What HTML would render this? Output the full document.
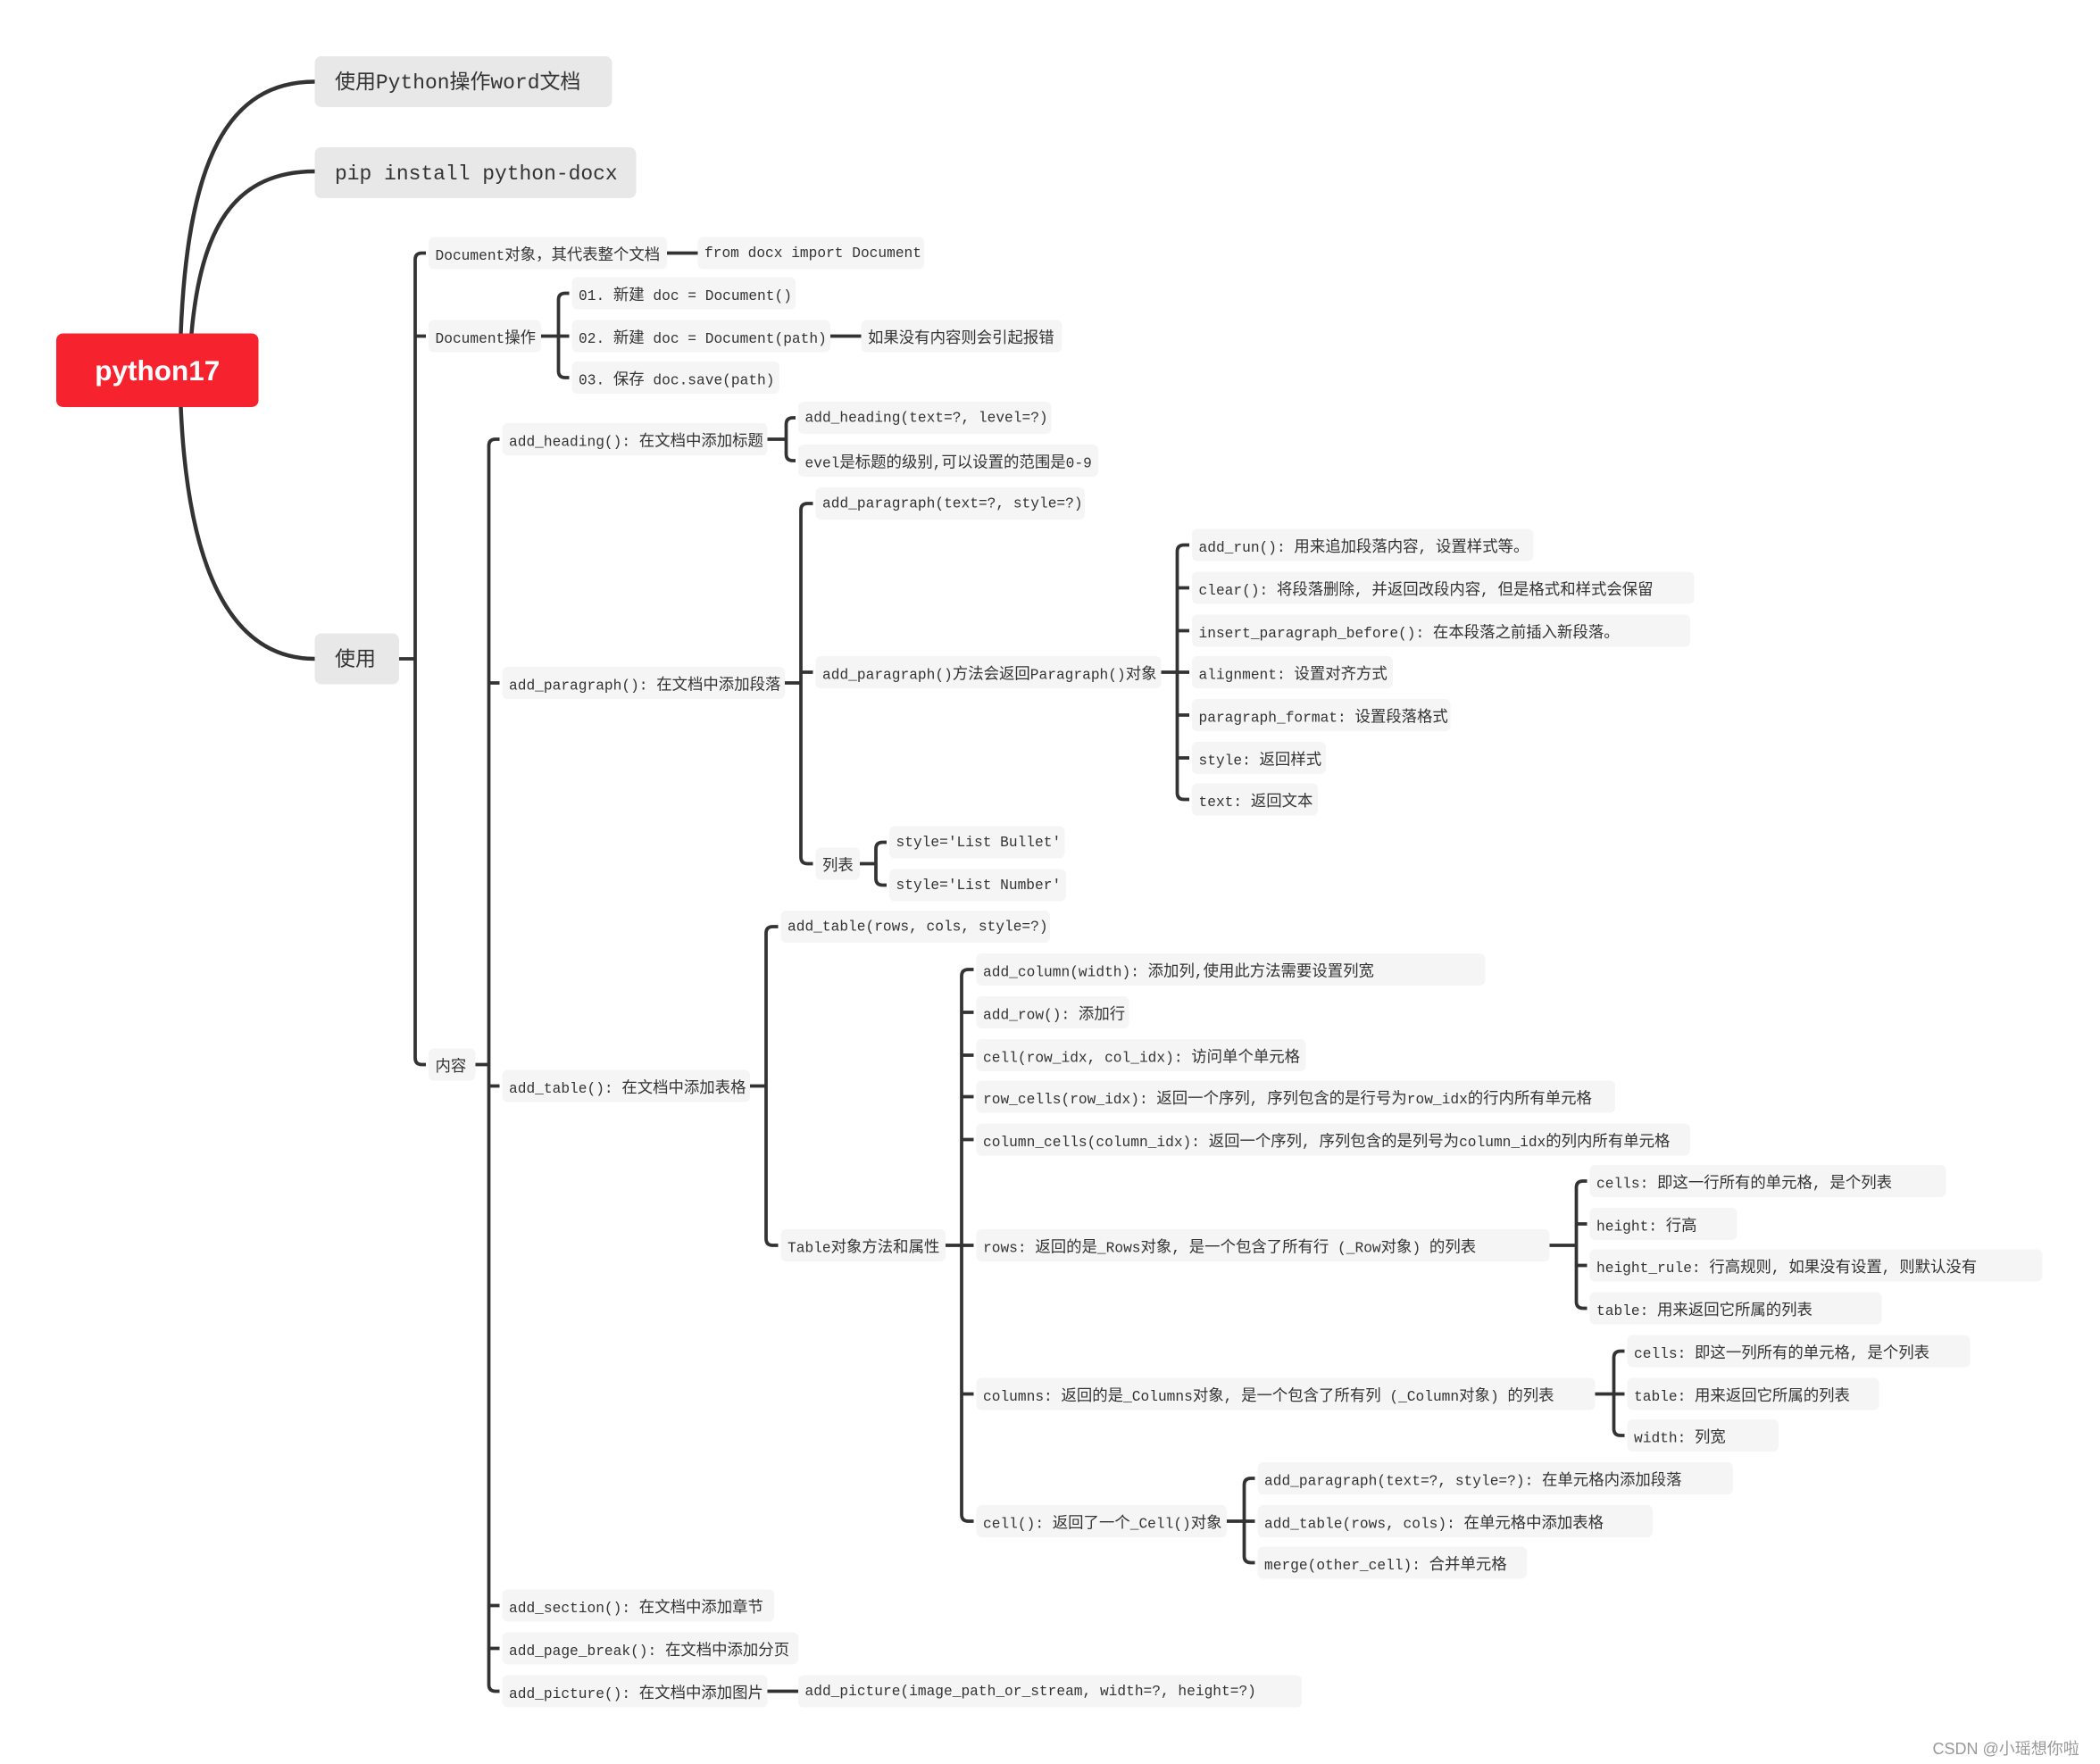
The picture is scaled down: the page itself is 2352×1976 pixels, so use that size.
<!DOCTYPE html>
<html><head><meta charset="utf-8"><style>
html,body{margin:0;padding:0;background:#fff;}
body{width:2352px;height:1975px;overflow:hidden;position:relative;}
#c{position:absolute;left:0;top:0;width:1568px;height:1317px;transform:scale(1.5);transform-origin:0 0;}
.n{position:absolute;height:24px;line-height:27px;padding-left:5px;box-sizing:border-box;background:#f5f5f5;border-radius:4px;white-space:nowrap;font-family:"Liberation Mono","Noto Sans CJK SC",monospace;font-size:10.8px;color:#333;overflow:visible;}
.n i{font-style:normal;font-family:"Noto Sans CJK SC",sans-serif;}
.b{position:absolute;height:38px;line-height:41px;padding-left:15px;box-sizing:border-box;background:#e8e8e8;border-radius:5px;white-space:nowrap;font-family:"Liberation Mono","Noto Sans CJK SC",monospace;font-size:15.3px;color:#333;}
#root{position:absolute;left:42px;top:249px;width:151px;height:55px;background:#f6232f;border-radius:5px;color:#fff;font-family:"Liberation Sans",sans-serif;font-weight:bold;font-size:21px;line-height:57px;text-align:center;}
svg{position:absolute;left:0;top:0;}
#wm{position:absolute;left:1443px;top:1297px;font-family:"Liberation Sans","Noto Sans CJK SC",sans-serif;font-size:12px;color:#999;white-space:nowrap;}
</style></head><body><div id="c">
<svg id="s" width="1568" height="1317" viewBox="0 0 1568 1317">
<g fill="none" stroke="#333" stroke-width="3" stroke-linecap="round">
<path d="M135,249 C140,120 170,61 235,61"/>
<path d="M143,249 C150,170 175,128 235,128"/>
<path d="M135,304 C140,420 170,492 235,492"/>
</g>
<g id="g" fill="none" stroke="#333" stroke-width="2.5"></g>
</svg>
<div id="root">python17</div>
<div class="b" style="left:235px;top:42px;width:222px;">使用Python操作word文档</div>
<div class="b" style="left:235px;top:110px;width:240px;">pip install python-docx</div>
<div class="b" style="left:235px;top:473px;width:63px;">使用</div>

<div class="n" style="left:320px;top:177px;width:178px;">Document对象，其代表整个文档</div>
<div class="n" style="left:521px;top:177px;width:169px;">from docx import Document</div>
<div class="n" style="left:320px;top:239px;width:84px;">Document操作</div>
<div class="n" style="left:427px;top:207px;width:167px;">01. 新建 doc = Document()</div>
<div class="n" style="left:427px;top:239px;width:193px;">02. 新建 doc = Document(path)</div>
<div class="n" style="left:643px;top:239px;width:150px;">如果没有内容则会引起报错</div>
<div class="n" style="left:427px;top:270px;width:155px;">03. 保存 doc.save(path)</div>
<div class="n" style="left:320px;top:783px;width:35px;">内容</div>

<div class="n" style="left:375px;top:316px;width:198px;">add_heading(): 在文档中添加标题</div>
<div class="n" style="left:596px;top:300px;width:189px;">add_heading(text=?, level=?)</div>
<div class="n" style="left:596px;top:332px;width:224px;">evel是标题的级别,可以设置的范围是0-9</div>

<div class="n" style="left:375px;top:498px;width:211px;">add_paragraph(): 在文档中添加段落</div>
<div class="n" style="left:609px;top:364px;width:201px;">add_paragraph(text=?, style=?)</div>
<div class="n" style="left:609px;top:490px;width:258px;">add_paragraph()方法会返回Paragraph()对象</div>
<div class="n" style="left:609px;top:633px;width:33px;">列表</div>
<div class="n" style="left:890px;top:395px;width:255px;">add_run(): 用来追加段落内容, 设置样式等。</div>
<div class="n" style="left:890px;top:427px;width:375px;">clear(): 将段落删除, 并返回改段内容, 但是格式和样式会保留</div>
<div class="n" style="left:890px;top:459px;width:372px;">insert_paragraph_before(): 在本段落之前插入新段落。</div>
<div class="n" style="left:890px;top:490px;width:150px;">alignment: 设置对齐方式</div>
<div class="n" style="left:890px;top:522px;width:193px;">paragraph_format: 设置段落格式</div>
<div class="n" style="left:890px;top:554px;width:100px;">style: 返回样式</div>
<div class="n" style="left:890px;top:585px;width:94px;">text: 返回文本</div>
<div class="n" style="left:664px;top:617px;width:131px;">style='List Bullet'</div>
<div class="n" style="left:664px;top:649px;width:132px;">style='List Number'</div>

<div class="n" style="left:375px;top:799px;width:185px;">add_table(): 在文档中添加表格</div>
<div class="n" style="left:583px;top:680px;width:201px;">add_table(rows, cols, style=?)</div>
<div class="n" style="left:583px;top:918px;width:123px;">Table对象方法和属性</div>
<div class="n" style="left:729px;top:712px;width:380px;">add_column(width): 添加列,使用此方法需要设置列宽</div>
<div class="n" style="left:729px;top:744px;width:114px;">add_row(): 添加行</div>
<div class="n" style="left:729px;top:776px;width:246px;">cell(row_idx, col_idx): 访问单个单元格</div>
<div class="n" style="left:729px;top:807px;width:477px;">row_cells(row_idx): 返回一个序列, 序列包含的是行号为row_idx的行内所有单元格</div>
<div class="n" style="left:729px;top:839px;width:533px;">column_cells(column_idx): 返回一个序列, 序列包含的是列号为column_idx的列内所有单元格</div>
<div class="n" style="left:729px;top:918px;width:428px;">rows: 返回的是_Rows对象, 是一个包含了所有行 (_Row对象) 的列表</div>
<div class="n" style="left:729px;top:1029px;width:462px;">columns: 返回的是_Columns对象, 是一个包含了所有列 (_Column对象) 的列表</div>
<div class="n" style="left:729px;top:1124px;width:187px;">cell(): 返回了一个_Cell()对象</div>
<div class="n" style="left:1187px;top:870px;width:266px;">cells: 即这一行所有的单元格, 是个列表</div>
<div class="n" style="left:1187px;top:902px;width:110px;">height: 行高</div>
<div class="n" style="left:1187px;top:933px;width:338px;">height_rule: 行高规则, 如果没有设置, 则默认没有</div>
<div class="n" style="left:1187px;top:965px;width:218px;">table: 用来返回它所属的列表</div>
<div class="n" style="left:1215px;top:997px;width:256px;">cells: 即这一列所有的单元格, 是个列表</div>
<div class="n" style="left:1215px;top:1029px;width:188px;">table: 用来返回它所属的列表</div>
<div class="n" style="left:1215px;top:1060px;width:113px;">width: 列宽</div>
<div class="n" style="left:939px;top:1092px;width:355px;">add_paragraph(text=?, style=?): 在单元格内添加段落</div>
<div class="n" style="left:939px;top:1124px;width:295px;">add_table(rows, cols): 在单元格中添加表格</div>
<div class="n" style="left:939px;top:1155px;width:201px;">merge(other_cell): 合并单元格</div>

<div class="n" style="left:375px;top:1187px;width:203px;">add_section(): 在文档中添加章节</div>
<div class="n" style="left:375px;top:1219px;width:221px;">add_page_break(): 在文档中添加分页</div>
<div class="n" style="left:375px;top:1251px;width:198px;">add_picture(): 在文档中添加图片</div>
<div class="n" style="left:596px;top:1251px;width:376px;">add_picture(image_path_or_stream, width=?, height=?)</div>
<div id="wm">CSDN @小瑶想你啦</div>
</div>
<script>
var g=document.getElementById('g'),d='';
function br(px,py,bx,ys,cx){
 var r=5;d+='M'+px+','+py+'H'+bx+' ';
 var t=Math.min.apply(null,ys),b=Math.max.apply(null,ys);
 if(ys.length==1){d+='M'+bx+','+py+'H'+cx+' ';return;}
 d+='M'+cx+','+t+'H'+(bx+r)+'Q'+bx+','+t+' '+bx+','+(t+r)+'V'+(b-r)+'Q'+bx+','+b+' '+(bx+r)+','+b+'H'+cx+' ';
 ys.forEach(function(y){if(y!=t&&y!=b)d+='M'+bx+','+y+'H'+cx+' ';});
}
br(298,492,310,[189,251,795],318);
br(498,189,509,[189],521);
br(404,251,417,[219,251,282],425);
br(620,251,631,[251],643);
br(355,795,365,[328,510,811,1199,1231,1263],373);
br(573,328,587,[312,344],594);
br(586,510,598,[376,502,645],607);
br(867,502,879,[407,439,471,502,534,566,597],888);
br(642,645,654,[629,661],662);
br(560,811,572,[692,930],581);
br(706,930,718,[724,756,788,819,851,930,1041,1136],727);
br(1157,930,1177,[882,914,945,977],1185);
br(1191,1041,1205,[1009,1041,1072],1213);
br(916,1136,929,[1104,1136,1167],937);
br(573,1263,584,[1263],596);
g.innerHTML='<path d="'+d+'"/>';
// wrap CJK runs so they render slightly larger, as in the reference
document.querySelectorAll('.n').forEach(function(el){
 el.innerHTML=el.textContent.replace(/([\u3000-\u9fff\uff00-\uffef]+)/g,'<i style="font-size:11.6px">$1</i>');
});
</script>
</body></html>
